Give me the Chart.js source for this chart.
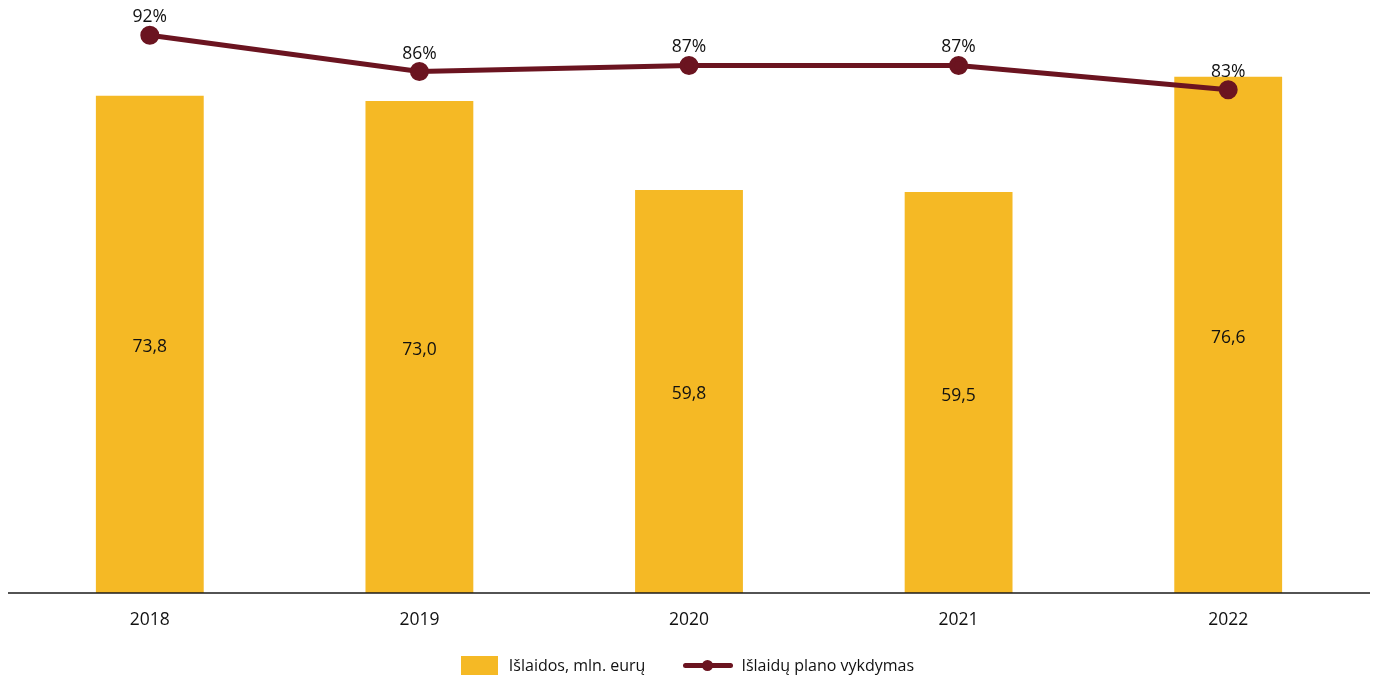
<!DOCTYPE html>
<html>
<head>
<meta charset="utf-8">
<script src="https://cdn.jsdelivr.net/npm/chart.js@4.4.1/dist/chart.umd.min.js"></script>
<style>
  html, body { margin: 0; padding: 0; background: #fff; }
  #wrap { position: relative; width: 1375px; height: 680px; }
  #legend {
    position: absolute; left: 0; top: 654px; width: 1375px;
    display: flex; justify-content: center; align-items: center;
    font-family: "Open Sans", sans-serif; font-size: 16px; color: #111;
  }
  .item { display: flex; align-items: center; }
  .box { width: 37px; height: 19px; background: #F5B925; margin-right: 11px; }
  .ln { position: relative; width: 50px; height: 5px; background: #6B1420; border-radius: 3px; margin-right: 8px; margin-left: 38px; }
  .ln::after { content: ''; position: absolute; left: 19px; top: -3px; width: 11px; height: 11px; border-radius: 50%; background: #6B1420; }
</style>
</head>
<body>
<div id="wrap">
  <canvas id="chart" width="1375" height="680"></canvas>
  <div id="legend">
    <div class="item"><span class="box"></span><span>Išlaidos, mln. eurų</span></div>
    <div class="item"><span class="ln"></span><span>Išlaidų plano vykdymas</span></div>
  </div>
</div>
<script>
const years    = ['2018', '2019', '2020', '2021', '2022'];
const spending = [73.8, 73.0, 59.8, 59.5, 76.6];
const planPct  = [92, 86, 87, 87, 83];

const BAR_COLOR  = '#F5B925';
const LINE_COLOR = '#6B1420';
const FONT = '"Open Sans", sans-serif';

const fmt = v => v.toFixed(1).replace('.', ',');

// value labels + axis line, drawn on the canvas
const labelsPlugin = {
    id: 'labels',
    afterDatasetsDraw(chart) {
        const ctx = chart.ctx;
        const area = chart.chartArea;
        ctx.save();
        ctx.strokeStyle = '#1a1a1a';
        ctx.lineWidth = 1.5;
        ctx.beginPath();
        ctx.moveTo(8, area.bottom);
        ctx.lineTo(1370, area.bottom);
        ctx.stroke();

        ctx.fillStyle = '#111';
        ctx.font = `17.5px ${FONT}`;
        ctx.textAlign = 'center';
        ctx.textBaseline = 'middle';
        chart.getDatasetMeta(1).data.forEach((bar, i) => {
            ctx.fillText(fmt(spending[i]), bar.x, (bar.y + bar.base) / 2 + 3);
        });
        chart.getDatasetMeta(0).data.forEach((pt, i) => {
            ctx.fillText(planPct[i] + '%', pt.x, pt.y - 18);
        });
        ctx.restore();
    }
};

new Chart(document.getElementById('chart'), {
    data: {
        labels: years,
        datasets: [
            {
                type: 'line', label: 'Išlaidų plano vykdymas', data: planPct, yAxisID: 'y1',
                borderColor: LINE_COLOR, backgroundColor: LINE_COLOR, borderWidth: 5,
                pointRadius: 7, pointHoverRadius: 7, tension: 0, order: 0
            },
            {
                type: 'bar', label: 'Išlaidos, mln. eurų', data: spending, yAxisID: 'y',
                backgroundColor: BAR_COLOR, barPercentage: 0.4, categoryPercentage: 1, order: 1
            }
        ]
    },
    options: {
        responsive: false,
        animation: false,
        layout: { autoPadding: false, padding: { left: 15, right: 12, top: 0, bottom: 32 } },
        plugins: { legend: { display: false }, tooltip: { enabled: false } },
        scales: {
            x: {
                grid: { display: false, drawTicks: false },
                border: { display: false },
                ticks: { padding: 17, color: '#111', font: { family: FONT, size: 17.5 } }
            },
            y:  { display: false, min: 0, max: 88 },
            y1: { display: false, min: 0, max: 97.8 }
        }
    },
    plugins: [labelsPlugin]
});
</script>
</body>
</html>
